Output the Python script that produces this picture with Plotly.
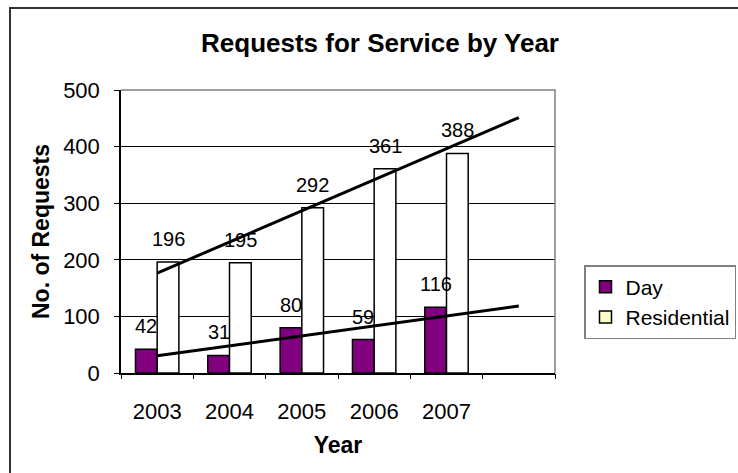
import numpy as np
import plotly.graph_objects as go

# ---- data ----
years = [2003, 2004, 2005, 2006, 2007]
year_labels = ["2003", "2004", "2005", "2006", "2007"]
day = [42, 31, 80, 59, 116]
residential = [196, 195, 292, 361, 388]
y_ticks = [0, 100, 200, 300, 400, 500]

# ---- layout constants (pixels) ----
W, H = 738, 473
ML, MR, MT, MB = 121, 183, 90, 100
PW, PH = W - ML - MR, H - MT - MB


def px_x(x):
    return (x - ML) / PW


def px_y(y):
    return 1 - (y - MT) / PH


FONT = "Arial, 'Liberation Sans', sans-serif"
BAR_W = 0.3
x_range = [years[0] - 0.5, years[-1] + 1.5]

# linear trend lines, forecast one period forward (like the source)
trend_x = [years[0], years[-1] + 1]


def trend(vals):
    k, b = np.polyfit(years, vals, 1)
    return [k * x + b for x in trend_x]


fig = go.Figure()
fig.add_trace(go.Bar(
    x=years, y=day, name="Day", width=BAR_W, offset=-BAR_W,
    marker=dict(color="#800080", line=dict(color="black", width=1.5)),
    legendgroup="a", hoverinfo="x+y",
))
fig.add_trace(go.Bar(
    x=years, y=residential, name="Residential", width=BAR_W, offset=0,
    marker=dict(color="white", line=dict(color="black", width=1.5)),
    showlegend=False, hoverinfo="x+y",
))
# legend swatch for Residential (pale yellow in the source legend)
fig.add_trace(go.Bar(
    x=[None], y=[None], name="Residential",
    marker=dict(color="#FFFFCC", line=dict(color="black", width=1.5)),
    legendgroup="b",
))
for vals in (residential, day):
    fig.add_trace(go.Scatter(
        x=trend_x, y=trend(vals), mode="lines", xaxis="x2",
        line=dict(color="black", width=3), showlegend=False, hoverinfo="skip",
    ))

annotations = []
for series, off in ((day, -BAR_W / 2), (residential, BAR_W / 2)):
    for x, v in zip(years, series):
        annotations.append(dict(
            x=x + off, y=v, xref="x", yref="y", text=str(v), showarrow=False,
            yanchor="bottom", yshift=10, font=dict(family=FONT, size=20, color="black"),
        ))

shapes = [
    # plot-area border (top and right, grey)
    dict(type="path", xref="paper", yref="paper", path="M 0 1 L 1 1 L 1 0",
         line=dict(color="#808080", width=1.5), layer="above"),
    # chart-area border
    dict(type="rect", xref="paper", yref="paper",
         x0=px_x(10), x1=px_x(W + 30), y0=px_y(H + 30), y1=px_y(8),
         line=dict(color="#333333", width=2), layer="below"),
]

fig.update_layout(
    width=W, height=H,
    margin=dict(l=ML, r=MR, t=MT, b=MB, autoexpand=False),
    paper_bgcolor="white", plot_bgcolor="white",
    barmode="overlay",
    font=dict(family=FONT, color="black"),
    title=dict(text="Requests for Service by Year", xref="container", yref="container",
               x=380 / W, y=1 - 43 / H, xanchor="center", yanchor="middle",
               font=dict(family=FONT, size=26, weight="bold", color="black")),
    xaxis=dict(range=x_range, tickvals=years, ticktext=year_labels, ticks="",
               showline=True, linecolor="black", linewidth=1.5, showgrid=False,
               zeroline=False, tickfont=dict(size=22), ticklabelstandoff=18,
               title=dict(text="Year", standoff=14,
                          font=dict(size=23, weight="bold"))),
    xaxis2=dict(range=x_range, overlaying="x", anchor="y", side="bottom",
                tickvals=list(np.arange(x_range[0], x_range[1] + 0.01, 1.0)),
                ticks="outside", ticklen=5, tickcolor="black", tickwidth=1,
                showticklabels=False, showgrid=False, zeroline=False, showline=False),
    yaxis=dict(range=[0, 500], tickvals=y_ticks, showgrid=True, gridcolor="black",
               gridwidth=1, zeroline=False, showline=True, linecolor="black",
               linewidth=1.5, ticks="outside", ticklen=5, tickcolor="black",
               tickfont=dict(size=22), ticklabelstandoff=10,
               title=dict(text="No. of Requests", standoff=7,
                          font=dict(size=23, weight="bold"))),
    legend=dict(xref="container", yref="container", x=584 / W, y=1 - 265 / H,
                xanchor="left", yanchor="top", bordercolor="#808080", borderwidth=1.5,
                bgcolor="white", font=dict(family=FONT, size=21, color="black"),
                tracegroupgap=4, traceorder="normal"),
    annotations=annotations,
    shapes=shapes,
    showlegend=True,
)

fig.write_html("out.html")
